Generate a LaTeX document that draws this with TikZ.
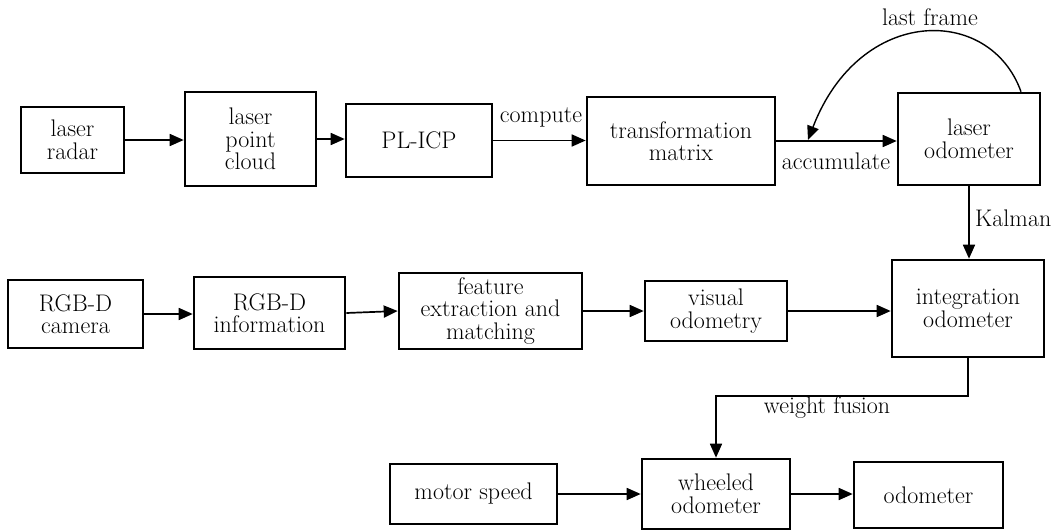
\documentclass[tikz,border=0pt]{standalone}
\usepackage{fontspec}
\usetikzlibrary{arrows.meta}
\begin{document}
\begin{tikzpicture}[x=1pt,y=-1pt,
 txt/.style={font=\fontsize{24}{22.5}\selectfont},
 box/.style={txt,draw,line width=2.6pt,align=center,inner sep=0pt},
 lbl/.style={txt,inner sep=0pt},
 arr/.style={line width=1.7pt,-{Triangle[length=14pt,width=12pt]}},
 curvearr/.style={line width=1.4pt,-{Triangle[length=14pt,width=12pt]}}]
\useasboundingbox[fill=white] (0,0) rectangle (1053,531);
% top row
\node[box,minimum width=103pt,minimum height=66pt] (radar) at (72.5,140) {laser\\radar};
\node[box,minimum width=131pt,minimum height=94pt] (cloud) at (250.5,139) {laser\\point\\cloud};
\node[box,minimum width=146pt,minimum height=73pt] (plicp) at (419,140.5) {PL-ICP};
\node[box,minimum width=188pt,minimum height=88pt] (trans) at (681,141) {transformation\\matrix};
\node[box,minimum width=142pt,minimum height=92pt] (lodo) at (969,139) {laser\\odometer};
% middle row
\node[box,minimum width=135pt,minimum height=68pt] (cam) at (75.5,314) {RGB-D\\camera};
\node[box,minimum width=151pt,minimum height=72pt] (info) at (269.5,313) {RGB-D\\information};
\node[box,minimum width=183pt,minimum height=76pt] (feat) at (490.5,311) {feature\\extraction and\\matching};
\node[box,minimum width=142pt,minimum height=60pt] (vis) at (716,311) {visual\\odometry};
\node[box,minimum width=152pt,minimum height=97pt] (integ) at (968,308.5) {integration\\odometer};
% bottom row
\node[box,minimum width=167pt,minimum height=60pt] (motor) at (473.5,494) {motor speed};
\node[box,minimum width=148pt,minimum height=70pt] (wheel) at (716,494) {wheeled\\odometer};
\node[box,minimum width=149pt,minimum height=66pt] (odo) at (928.5,495) {odometer};
% labels
\node[lbl] (lcompute) at (541,117) {compute};
\node[lbl] (laccum) at (836,161) {accumulate};
\node[lbl] (llast) at (930,17) {last frame};
\node[lbl,anchor=west] (lkalman) at (975,218) {Kalman};
\node[lbl] (lweight) at (827,408) {weight fusion};
\coordinate (acc) at (808,140);
% connectors
\draw[arr] (radar.east) -- (cloud.west |- radar.east);
\draw[arr] (cloud.east) -- (plicp.west |- cloud.east);
\draw[arr] (plicp.east) -- (trans.west |- plicp.east);
\draw[arr] (trans.east) -- (lodo.west |- trans.east);
\draw[curvearr] ([xshift=52pt]lodo.north) .. controls (990,5) and (860,5) .. (acc);
\draw[arr] (lodo.south) -- (lodo.south |- integ.north);
\draw[arr] (cam.east) -- (info.west |- cam.east);
\draw[arr] (info.east) -- (feat.west);
\draw[arr] (feat.east) -- (vis.west |- feat.east);
\draw[arr] (vis.east) -- (integ.west |- vis.east);
\draw[arr] (integ.south) -- ++(0,38) -| (wheel.north);
\draw[arr] (motor.east) -- (wheel.west |- motor.east);
\draw[arr] (wheel.east) -- (odo.west |- wheel.east);
\end{tikzpicture}
\end{document}
